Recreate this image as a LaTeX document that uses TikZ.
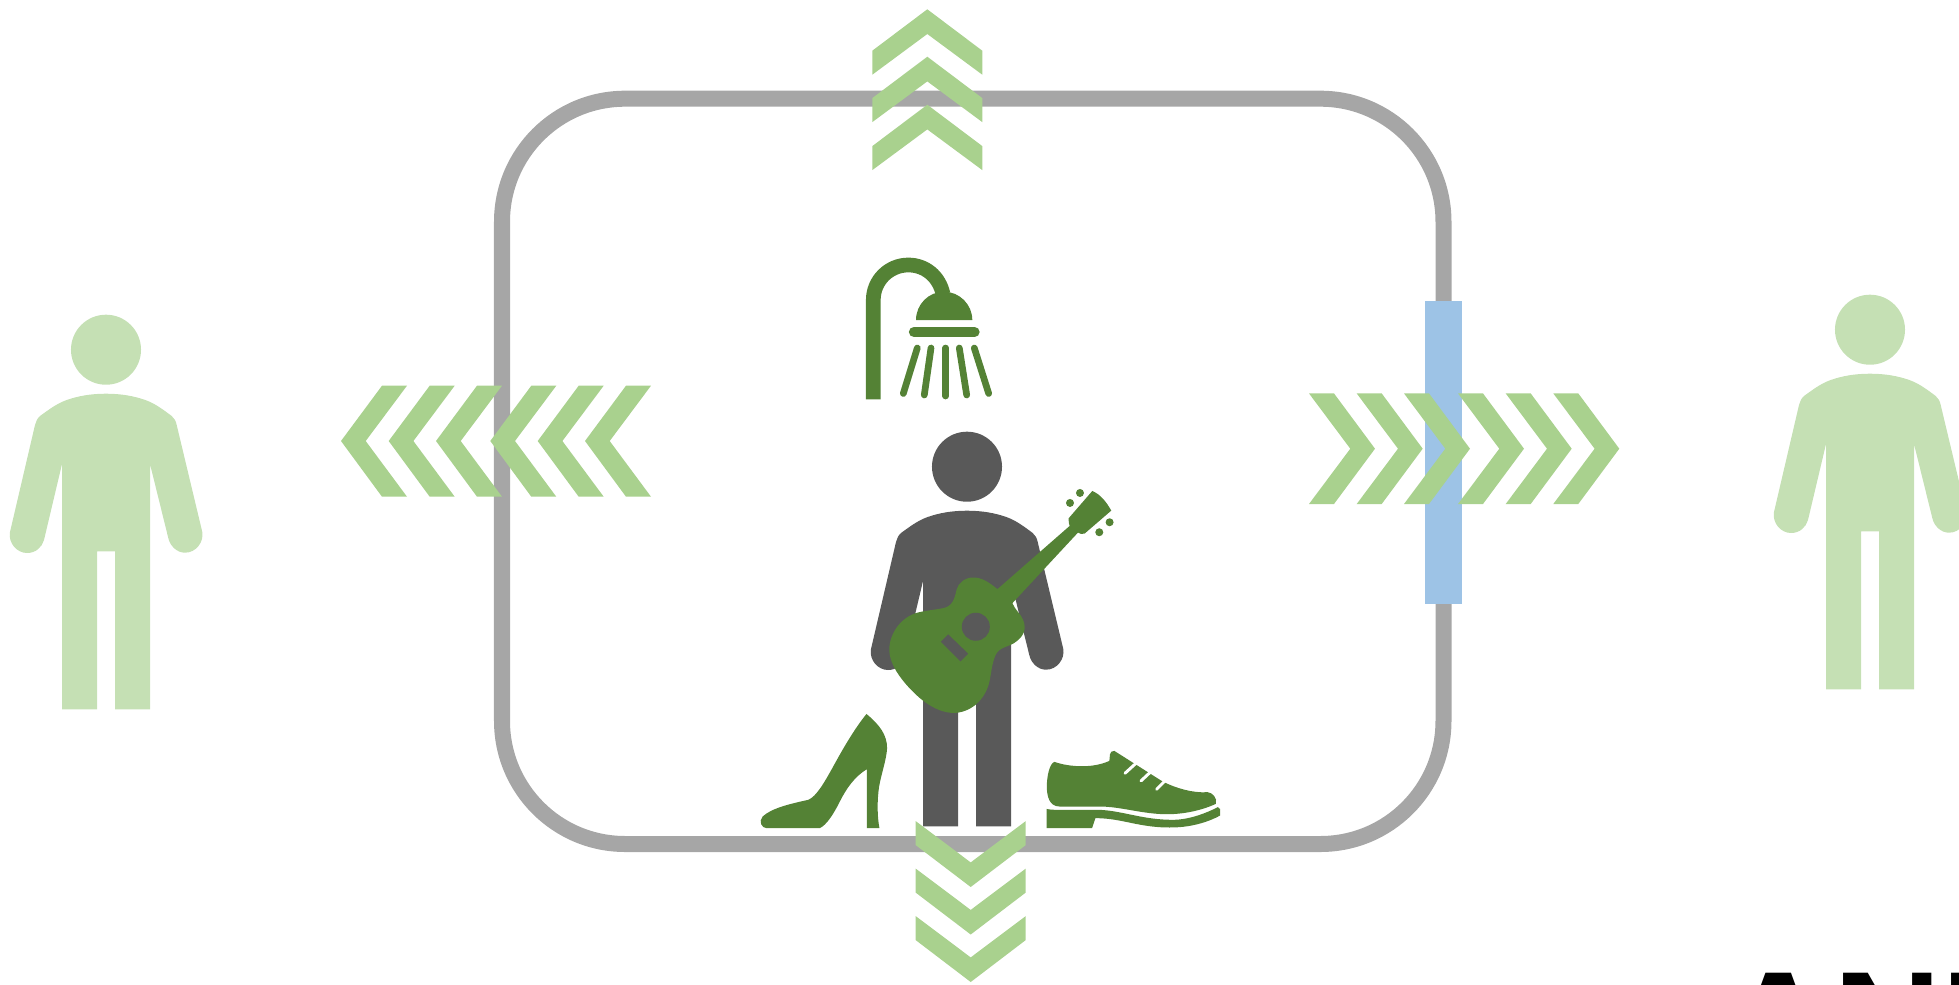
\documentclass[tikz,border=0pt]{standalone}
\usepackage{fontspec}
\setmainfont{Liberation Sans}
\definecolor{framegray}{HTML}{A6A6A6}
\definecolor{chevgreen}{HTML}{A9D18E}
\definecolor{lightgreen}{HTML}{C5E0B4}
\definecolor{darkgreen}{HTML}{548235}
\definecolor{darkgray}{HTML}{595959}
\definecolor{doorblue}{HTML}{9DC3E6}
\tikzset{
  framestyle/.style={draw=framegray,line width=1.6mm,rounded corners=12.3mm},
  chevstyle/.style={fill=chevgreen},
  icon/.style={fill=darkgreen},
  iconline/.style={draw=darkgreen,line cap=round},
  lace/.style={draw=white,line width=0.85pt,line cap=round}
}
\newcommand{\personfig}[3]{%
  \begin{scope}[shift={(#1,#2)}]
    \fill[#3] (106,349.7) circle[radius=0.35cm];
    \fill[#3] (106,393.7)
      .. controls (91,393.7) and (78,396) .. (66.7,400)
      .. controls (57,403.4) and (49,409.5) .. (40,416)
      .. controls (37,418.5) and (36,422) .. (35,425)
      -- (10,532)
      .. controls (8,543) and (17,553) .. (27,553)
      .. controls (36,553) and (42,547) .. (44,540)
      -- (62,464) -- (62,709.3) -- (97,709.3) -- (97,551.3) -- (115,551.3)
      -- (115,709.3) -- (150,709.3) -- (150,464) -- (168.3,538)
      .. controls (170,546) and (177,552.7) .. (185,552.7)
      .. controls (196,552.7) and (204,542) .. (202.3,532)
      -- (176.7,425)
      .. controls (176,421) and (174,418) .. (171.7,416)
      .. controls (163,409.5) and (155,403.4) .. (145.3,400)
      .. controls (134,396) and (121,393.7) .. (106,393.7) -- cycle;
  \end{scope}}
\newcommand{\chevup}[2]{\fill[chevstyle] (#1,#2) -- ++(55,41.4) -- ++(0,24) -- ++(-55,-40.7) -- ++(-55,40.7) -- ++(0,-24) -- cycle;}
\newcommand{\chevdown}[2]{\fill[chevstyle] (#1,#2) -- ++(55,-41.9) -- ++(0,-24) -- ++(-55,41.3) -- ++(-55,-41.3) -- ++(0,24) -- cycle;}
\newcommand{\chevleft}[2]{\fill[chevstyle] (#1,#2) -- ++(41,-55.3) -- ++(25,0) -- ++(-41.3,55.3) -- ++(41.3,55.7) -- ++(-25,0) -- cycle;}
\newcommand{\chevright}[2]{\fill[chevstyle] (#1,#2) -- ++(-41,-55.3) -- ++(-25,0) -- ++(41.3,55.3) -- ++(-41.3,55.3) -- ++(25,0) -- cycle;}
\begin{document}
\begin{tikzpicture}[x=0.01cm,y=-0.01cm]
  \clip (0,0) rectangle (1959,984);
  % frame and door
  \draw[framestyle] (502,98.7) rectangle (1443.5,844);
  \fill[doorblue] (1425,301) rectangle (1462,603.7);
  % people
  \personfig{0}{0}{lightgreen}
  \personfig{1764}{-20}{lightgreen}
  \personfig{861}{117}{darkgray}
  % shower
  \draw[draw=darkgreen,line width=1.47mm] (873.3,399.3) -- (873.3,300)
    .. controls (873.3,280.5) and (889,265) .. (908.3,265)
    .. controls (925,265) and (939,276) .. (943,294);
  \fill[icon] (916,320) .. controls (916,304.5) and (928.5,291.7) .. (944,291.7)
    .. controls (959.5,291.7) and (972.3,304.5) .. (972.3,320) -- cycle;
  \draw[iconline,line width=1.03mm] (914,332) -- (974.5,332);
  \draw[iconline,line width=0.67mm] (917.3,348) -- (903.3,393.5);
  \draw[iconline,line width=0.67mm] (931,348) -- (924.3,395);
  \draw[iconline,line width=0.67mm] (945.7,348) -- (945.7,396);
  \draw[iconline,line width=0.67mm] (959.3,348) -- (966.7,395);
  \draw[iconline,line width=0.67mm] (974.3,348) -- (988.7,393.5);
  % guitar
  \begin{scope}[shift={(860,470)},x=0.003333cm,y=-0.003333cm]
    \fill[icon] (413,358)
      .. controls (385,335) and (365,323) .. (340,323)
      .. controls (315,323) and (295,340) .. (290,360)
      .. controls (285,385) and (278,410) .. (250,415)
      .. controls (225,420) and (200,422) .. (175,428)
      .. controls (125,440) and (88,490) .. (88,540)
      .. controls (88,575) and (110,610) .. (135,640)
      .. controls (165,675) and (220,731) .. (285,730)
      .. controls (335,727) and (375,690) .. (388,640)
      .. controls (395,610) and (396,580) .. (408,555)
      .. controls (420,530) and (450,532) .. (470,515)
      .. controls (490,500) and (502,480) .. (490,450)
      .. controls (482,430) and (465,420) .. (458,400)
      -- (655,188) .. controls (660,192) and (668,194) .. (675,191)
      -- (755,122) .. controls (740,95) and (722,73) .. (698,63)
      -- (627,145) .. controls (626,155) and (628,162) .. (630,168)
      -- cycle;
    \fill[darkgray] (348,471) circle[radius=0.14cm];
    \fill[darkgray] (265,494) -- (325,552) -- (302,575) -- (243,516) -- cycle;
    \fill[icon] (661,69) circle[radius=0.04cm];
    \fill[icon] (631,99) circle[radius=0.04cm];
    \fill[icon] (750,157) circle[radius=0.04cm];
    \fill[icon] (719,187) circle[radius=0.04cm];
  \end{scope}
  % shoes
  \begin{scope}[shift={(740,700)},x=0.003333cm,y=-0.003333cm]
    \fill[icon] (380,42)
      .. controls (420,75) and (442,105) .. (442,145)
      .. controls (440,180) and (425,220) .. (418,260)
      .. controls (412,300) and (412,350) .. (419,385)
      -- (381,385) -- (381,208)
      .. controls (345,230) and (320,265) .. (300,305)
      .. controls (280,345) and (260,375) .. (240,385)
      -- (80,385)
      .. controls (65,385) and (55,365) .. (68,350)
      .. controls (95,325) and (150,312) .. (205,300)
      .. controls (230,290) and (255,245) .. (280,200)
      .. controls (310,145) and (345,85) .. (380,42) -- cycle;
    \fill[icon] (945,186)
      .. controls (975,197) and (1050,210) .. (1110,183)
      .. controls (1112,170) and (1108,152) .. (1125,153)
      -- (1270,245)
      .. controls (1310,265) and (1360,280) .. (1405,277)
      .. controls (1420,278) and (1435,295) .. (1430,312)
      .. controls (1380,335) and (1320,345) .. (1270,343)
      .. controls (1200,340) and (1140,320) .. (1080,320)
      -- (960,320)
      .. controls (930,320) and (922,290) .. (922,260)
      .. controls (922,230) and (930,190) .. (945,186) -- cycle;
    \draw[lace] (1157,220) -- (1190,190);
    \draw[lace] (1205,243) -- (1235,215);
    \draw[lace] (1252,268) -- (1280,240);
    \fill[icon] (921,327) -- (921,385) -- (1058,385) -- (1068,355)
      .. controls (1150,355) and (1200,385) .. (1300,383)
      .. controls (1360,382) and (1410,365) .. (1443,347)
      -- (1443,328) -- (1436,322)
      .. controls (1400,340) and (1350,360) .. (1300,360)
      .. controls (1210,360) and (1150,333) .. (1080,330)
      -- (960,330) .. controls (945,330) and (930,330) .. (921,327) -- cycle;
  \end{scope}
  % chevrons
  \chevup{927.3}{9.3}\chevup{927.3}{56.7}\chevup{927.3}{104.7}
  \chevdown{970.7}{887}\chevdown{970.7}{934.5}\chevdown{970.7}{982}
  \chevleft{341}{441}\chevleft{388.7}{441}\chevleft{436}{441}
  \chevleft{490.3}{441}\chevleft{537.7}{441}\chevleft{585}{441}
  \chevright{1375}{448.7}\chevright{1422.7}{448.7}\chevright{1470}{448.7}
  \chevright{1524}{448.7}\chevright{1571.7}{448.7}\chevright{1619.3}{448.7}
  % cropped title
  \node[anchor=base west,inner sep=0pt,font=\bfseries\fontsize{42.7pt}{42.7pt}\selectfont] (title) at (1724,1076) {ANN};
\end{tikzpicture}
\end{document}
